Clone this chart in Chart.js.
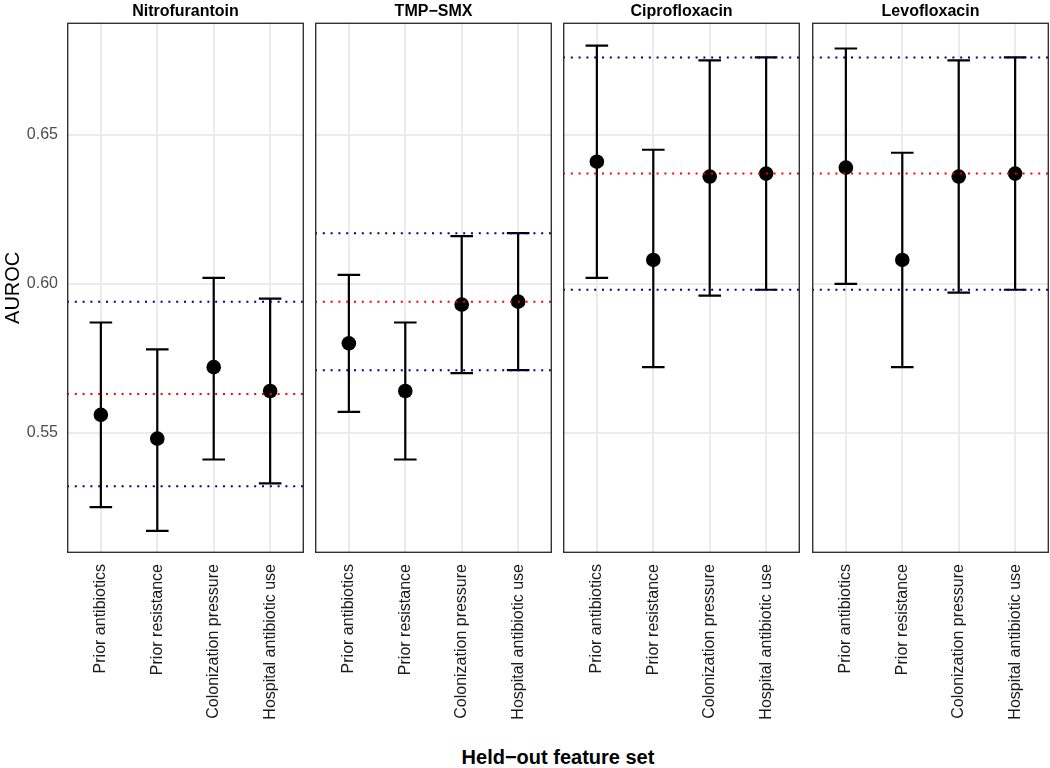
<!DOCTYPE html>
<html>
<head>
<meta charset="utf-8">
<script src="https://cdn.jsdelivr.net/npm/chart.js@4.4.1/dist/chart.umd.min.js"></script>
<style>
  body { margin:0; background:#fff; }
  #wrap { position:relative; width:1050px; height:768px; overflow:hidden; font-family:"Liberation Sans", Arial, sans-serif; }
  #wrap canvas { position:absolute; top:0; }
  #xtitle { position:absolute; left:67px; width:982px; top:747px; line-height:20px; text-align:center; font-weight:bold; font-size:20px; color:#000; }
</style>
</head>
<body>
<div id="wrap">
  <canvas id="p0" width="304" height="740" style="left:0px"></canvas>
  <canvas id="p1" width="237" height="740" style="left:315px"></canvas>
  <canvas id="p2" width="237" height="740" style="left:563px"></canvas>
  <canvas id="p3" width="237" height="740" style="left:812px"></canvas>
  <div id="xtitle">Held−out feature set</div>
</div>

<script>
// data
const drugs = ['Nitrofurantoin', 'TMP\u2212SMX', 'Ciprofloxacin', 'Levofloxacin'];
const featureSets = ['Prior antibiotics', 'Prior resistance', 'Colonization pressure', 'Hospital antibiotic use'];
const auroc = [
  [0.556, 0.548, 0.572, 0.564],
  [0.580, 0.564, 0.593, 0.594],
  [0.641, 0.608, 0.636, 0.637],
  [0.639, 0.608, 0.636, 0.637]
];
const lower = [
  [0.525, 0.517, 0.541, 0.533],
  [0.557, 0.541, 0.570, 0.571],
  [0.602, 0.572, 0.596, 0.598],
  [0.600, 0.572, 0.597, 0.598]
];
const upper = [
  [0.587, 0.578, 0.602, 0.595],
  [0.603, 0.587, 0.616, 0.617],
  [0.680, 0.645, 0.675, 0.676],
  [0.679, 0.644, 0.675, 0.676]
];
// full model (all features) estimate and interval
const fullModel = [0.563, 0.594, 0.637, 0.637];
const fullLower = [0.532, 0.571, 0.598, 0.598];
const fullUpper = [0.594, 0.617, 0.676, 0.676];
const yTicks = [0.55, 0.60, 0.65];
const yMin = 0.5096, yMax = 0.6877;

Chart.defaults.font.family = '"Liberation Sans", Arial, sans-serif';

const errorBars = {
  id: 'errorBars',
  beforeDatasetsDraw(chart, args, opts) {
    const {ctx, scales: {x, y}} = chart;
    const p = opts.panel;
    ctx.save();
    ctx.strokeStyle = '#000';
    ctx.lineWidth = 2.2;
    featureSets.forEach((f, k) => {
      const px = x.getPixelForValue(k + 1);
      const x0 = x.getPixelForValue(k + 1 - 0.2), x1 = x.getPixelForValue(k + 1 + 0.2);
      const yl = y.getPixelForValue(lower[p][k]), yu = y.getPixelForValue(upper[p][k]);
      ctx.beginPath();
      ctx.moveTo(px, yl); ctx.lineTo(px, yu);
      ctx.moveTo(x0, yl); ctx.lineTo(x1, yl);
      ctx.moveTo(x0, yu); ctx.lineTo(x1, yu);
      ctx.stroke();
    });
    ctx.restore();
  },
  afterDatasetsDraw(chart, args, opts) {
    const {ctx, chartArea: a, scales: {y}} = chart;
    const p = opts.panel;
    const hline = (v, col) => {
      const py = y.getPixelForValue(v);
      ctx.beginPath();
      ctx.strokeStyle = col;
      ctx.moveTo(a.left, py); ctx.lineTo(a.right, py);
      ctx.stroke();
    };
    ctx.save();
    ctx.lineWidth = 2;
    ctx.setLineDash([2, 5.8]);
    hline(fullUpper[p], '#00008b');
    hline(fullLower[p], '#00008b');
    hline(fullModel[p], '#ff0000');
    ctx.setLineDash([]);
    // panel border
    ctx.strokeStyle = '#333333';
    ctx.lineWidth = 1.4;
    ctx.strokeRect(a.left + 0.7, a.top + 0.7, a.right - a.left - 1.4, a.bottom - a.top - 1.4);
    ctx.restore();
  }
};

drugs.forEach((drug, p) => {
  const first = p === 0;
  new Chart(document.getElementById('p' + p), {
    type: 'scatter',
    data: {
      datasets: [{
        data: auroc[p].map((v, k) => ({x: k + 1, y: v})),
        pointRadius: 7.3,
        pointBackgroundColor: '#000',
        pointBorderWidth: 0
      }]
    },
    plugins: [errorBars],
    options: {
      responsive: false,
      animation: false,
      layout: {padding: 0, autoPadding: false},
      plugins: {
        legend: {display: false},
        tooltip: {enabled: false},
        errorBars: {panel: p},
        title: {
          display: true, text: drug, fullSize: false, color: '#000',
          font: {size: 16, weight: 'bold'}, padding: {top: 2, bottom: 1.4}
        }
      },
      scales: {
        x: {
          type: 'linear', min: 0.4, max: 4.6,
          afterBuildTicks: s => { s.ticks = featureSets.map((f, k) => ({value: k + 1})); },
          afterFit: s => { s.height = 740 - 553; s.paddingLeft = 0; s.paddingRight = 0; },
          ticks: {
            callback: (v, i) => featureSets[i],
            minRotation: 90, maxRotation: 90, autoSkip: false,
            padding: 11, color: '#1a1a1a', font: {size: 16}
          },
          grid: {color: '#ebebeb', lineWidth: 2, drawTicks: false},
          border: {display: false}
        },
        y: {
          min: yMin, max: yMax,
          afterBuildTicks: s => { s.ticks = yTicks.map(v => ({value: v})); },
          afterFit: s => { s.width = first ? 67 : 0; s.paddingTop = 0; s.paddingBottom = 0; },
          ticks: {
            display: first, padding: 9, color: '#4d4d4d', font: {size: 16},
            callback: v => v.toFixed(2)
          },
          title: {display: first, text: 'AUROC', color: '#000', font: {size: 20}, padding: {top: 1, bottom: 0}},
          grid: {color: '#ebebeb', lineWidth: 2, drawTicks: false},
          border: {display: false}
        }
      }
    }
  });
});
</script>
</body>
</html>
